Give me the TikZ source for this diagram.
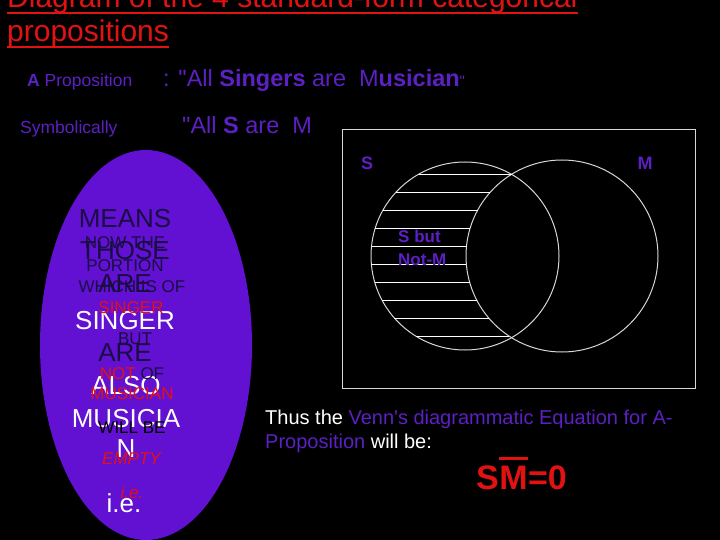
\documentclass[tikz,border=0pt]{standalone}
\usepackage{fontspec}
\setmainfont{Liberation Sans}[Ligatures=TeXOff]
\usepackage{tikz}
\definecolor{titlered}{RGB}{226,18,18}
\definecolor{propurple}{RGB}{92,32,196}
\definecolor{ovalfill}{RGB}{98,16,210}
\definecolor{inkdark}{RGB}{24,14,66}
\definecolor{venngrey}{RGB}{215,215,215}

\begin{document}
\begin{tikzpicture}[x=1pt,y=-1pt,
	every node/.style={inner sep=0pt},
	titletext/.style={anchor=base west,text=titlered,font=\fontsize{30}{30}\selectfont},
	titleline/.style={draw=titlered,line width=2pt},
	headsmall/.style={anchor=base west,text=propurple,font=\fontsize{17.5}{17.5}\selectfont},
	headbig/.style={anchor=base west,text=propurple,font=\fontsize{23.5}{23.5}\selectfont},
	bigword/.style={anchor=base,text=inkdark,font=\fontsize{26}{26}\selectfont},
	smallword/.style={anchor=base,text=inkdark,font=\fontsize{17}{17}\selectfont},
	setlabel/.style={anchor=base,text=propurple,font=\fontsize{18}{18}\selectfont\bfseries},
	vennline/.style={draw=venngrey,line width=1pt},
	hatch/.style={draw=white,line width=0.9pt},
	bodytext/.style={anchor=base west,text=white,font=\fontsize{20}{20}\selectfont},
	eqtext/.style={anchor=base west,text=titlered,font=\fontsize{34}{34}\selectfont\bfseries}]

	\fill[black] (0,0) rectangle (720,540);
	\useasboundingbox (0,0) rectangle (720,540);

	% title
	\node[titletext] (title1) at (7,8) {Diagram of the 4 standard-form categorical};
	\node[titletext] (title2) at (7,42) {propositions};
	\draw[titleline] ([yshift=-5pt]title1.base west) -- ([yshift=-5pt]title1.base east);
	\draw[titleline] ([yshift=-5pt]title2.base west) -- ([yshift=-5pt]title2.base east);

	% the proposition
	\node[headsmall] (aprop) at (27,87) {\textbf{A} Proposition};
	\node[headbig] (aline) at (163,87) {: "All \textbf{Singers} are\ \ M\textbf{usician}{\fontsize{15}{15}\selectfont"}};
	\node[headsmall] (symb) at (20,134) {Symbolically};
	\node[headbig] (sline) at (182,134) {"All \textbf{S} are\ \ M};

	% oval
	\fill[ovalfill] (146,345) ellipse [x radius=106, y radius=195];

	\node[bigword] (w1) at (125,227) {MEANS};
	\node[bigword] (w2) at (125,259) {THOSE};
	\node[bigword] (w3) at (125,292) {ARE};
	\node[bigword,text=white] (w4) at (125,329) {SINGER};
	\node[bigword] (w5) at (125,361) {ARE};
	\node[bigword,text=white] (w6) at (126,394) {ALSO};
	\node[bigword,text=white] (w7) at (126,427) {MUSICIA};
	\node[bigword,text=white] (w8) at (126,457) {N};
	\node[bigword,text=white] (w9) at (124,512) {i.e.};

	\node[smallword] (s1) at (125,248) {NOW THE};
	\node[smallword] (s2) at (125,271) {PORTION};
	\node[smallword] (s3) at (132,292) {WHICH IS OF};
	\node[smallword,text=titlered] (s4) at (131,313) {SINGER};
	\node[smallword] (s5) at (135,344) {BUT};
	\node[smallword] (s6) at (132,379) {\textcolor{titlered}{NOT} OF};
	\node[smallword,text=titlered] (s7) at (132,399) {MUSICIAN};
	\node[smallword,text=black] (s8) at (132,433) {WILL BE};
	\node[smallword,text=titlered] (s9) at (132,464) {\textit{EMPTY}};
	\node[smallword,text=titlered] (s10) at (132,498) {\textit{i.e.}};

	% venn diagram
	\draw[vennline] (342,130) rectangle (695,388);
	\node[setlabel] (lblS) at (367,170) {S};
	\node[setlabel] (lblM) at (645,170) {M};
	\draw[vennline] (465,256) circle (94);
	\draw[vennline] (562,256) circle (96);
	\foreach \hy in {174,192,...,336} {
		\pgfmathsetmacro\hl{465-sqrt(94^2-(\hy-256)^2)}
		\pgfmathsetmacro\hr{562-sqrt(96^2-(\hy-256)^2)}
		\draw[hatch] (\hl,\hy) -- (\hr,\hy);
	}
	\node[setlabel,anchor=base west,font=\fontsize{17}{17}\selectfont\bfseries] (sbut) at (398,243) {S but};
	\node[setlabel,anchor=base west,font=\fontsize{17}{17}\selectfont\bfseries] (notm) at (398,265) {Not-M};

	% equation
	\node[bodytext] (thus1) at (265,424) {Thus the \textcolor{propurple}{Venn's diagrammatic Equation for A-}};
	\node[bodytext] (thus2) at (265,448) {\textcolor{propurple}{Proposition} will be:};
	\node[eqtext] (eqS) at (476,489) {S};
	\node[eqtext] (eqM) at (eqS.base east) {M};
	\node[eqtext] (eqZero) at (eqM.base east) {=0};
	\draw[titlered,line width=3pt] ([yshift=7pt]eqM.north west) -- ([yshift=7pt]eqM.north east);
\end{tikzpicture}
\end{document}
